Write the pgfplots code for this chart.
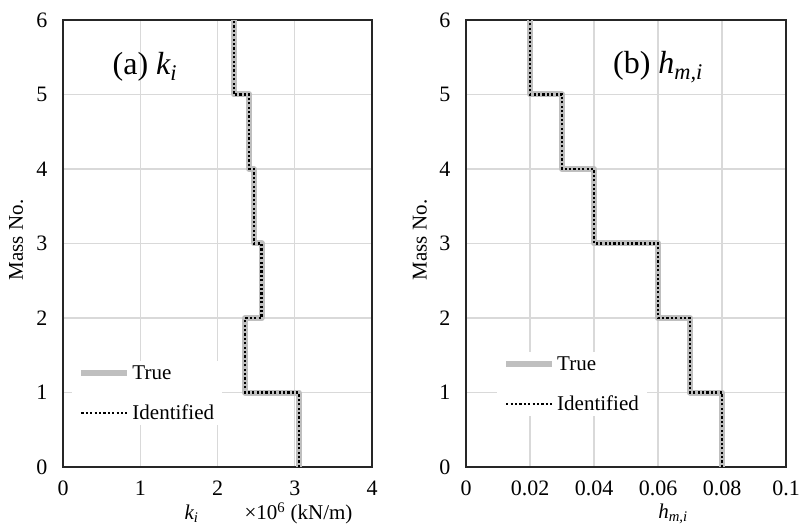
\documentclass[border=0pt]{standalone}
\usepackage{pgfplots}
\pgfplotsset{compat=1.18}
\usepackage{fontspec}
\setmainfont{Liberation Serif}

\definecolor{truegray}{HTML}{BFBFBF}
\definecolor{gridgray}{HTML}{D9D9D9}

\pgfplotsset{
  panel/.style={
    scale only axis,
    height=447pt,
    ymin=0, ymax=6,
    ytick={0,1,2,3,4,5,6},
    grid=major,
    grid style={draw=gridgray, line width=1.2pt},
    axis line style={draw=black!85, line width=1.3pt},
    major tick length=0pt,
    tick label style={font=\fontsize{22}{25}\selectfont},
    yticklabel style={xshift=-12pt},
    xticklabel style={yshift=-10pt},
    /pgf/number format/assume math mode=true,
    ylabel={Mass No.},
    label style={font=\fontsize{21}{24}\selectfont},
    legend cell align=left,
    legend style={draw=none, fill=white, font=\fontsize{21}{24}\selectfont,
      row sep=20pt, inner xsep=6pt},
    legend image code/.code={\draw[#1] (0pt,0pt) -- (46pt,0pt);},
  },
  truestyle/.style={draw=truegray, line width=6pt, line join=round},
  idstyle/.style={draw=black, line width=2.2pt, dash pattern=on 2.2pt off 2.2pt},
}

\begin{document}
\begin{tikzpicture}[x=1pt,y=1pt]
% (a) stiffness
\begin{axis}[panel,
  at={(63pt,60pt)}, anchor=south west,
  width=309pt,
  xmin=0, xmax=4,
  xtick={0,1,2,3,4},
  ylabel style={at={(axis description cs:-0.152,0.508)}, anchor=center},
  xlabel={\textit{k\textsubscript{i}}\hspace{2.2em}×10\textsuperscript{6} (kN/m)},
  xlabel style={at={(axis description cs:0.665,-0.104)}, anchor=center},
  legend style={at={(axis description cs:0.03,0.237)}, anchor=north west},
]
\addplot[truestyle] coordinates {(3.05,0) (3.05,1) (2.36,1) (2.36,2) (2.57,2) (2.57,3) (2.47,3) (2.47,4) (2.41,4) (2.41,5) (2.21,5) (2.21,6)};
\addlegendentry{True}
\addplot[idstyle] coordinates {(3.05,0) (3.05,1) (2.36,1) (2.36,2) (2.57,2) (2.57,3) (2.47,3) (2.47,4) (2.41,4) (2.41,5) (2.21,5) (2.21,6)};
\addlegendentry{Identified}
\node[font=\fontsize{32}{36}\selectfont] at (axis description cs:0.265,0.895) {(a) \textit{k\textsubscript{i}}};
\end{axis}
% (b) damping
\begin{axis}[panel,
  at={(466pt,60pt)}, anchor=south west,
  width=320pt,
  xmin=0, xmax=0.1,
  xtick={0,0.02,0.04,0.06,0.08,0.1},
  xticklabels={0,0.02,0.04,0.06,0.08,0.1},
  ylabel style={at={(axis description cs:-0.144,0.508)}, anchor=center},
  xlabel={\textit{h\textsubscript{m,i}}},
  xlabel style={at={(axis description cs:0.647,-0.104)}, anchor=center},
  legend style={at={(axis description cs:0.097,0.257)}, anchor=north west},
]
\addplot[truestyle] coordinates {(0.08,0) (0.08,1) (0.07,1) (0.07,2) (0.06,2) (0.06,3) (0.04,3) (0.04,4) (0.03,4) (0.03,5) (0.02,5) (0.02,6)};
\addlegendentry{True}
\addplot[idstyle] coordinates {(0.08,0) (0.08,1) (0.07,1) (0.07,2) (0.06,2) (0.06,3) (0.04,3) (0.04,4) (0.03,4) (0.03,5) (0.02,5) (0.02,6)};
\addlegendentry{Identified}
\node[font=\fontsize{32}{36}\selectfont] at (axis description cs:0.6,0.895) {(b) \textit{h\textsubscript{m,i}}};
\end{axis}
\pgfresetboundingbox
\path (0pt,0pt) rectangle (799pt,527pt);
\end{tikzpicture}
\end{document}
